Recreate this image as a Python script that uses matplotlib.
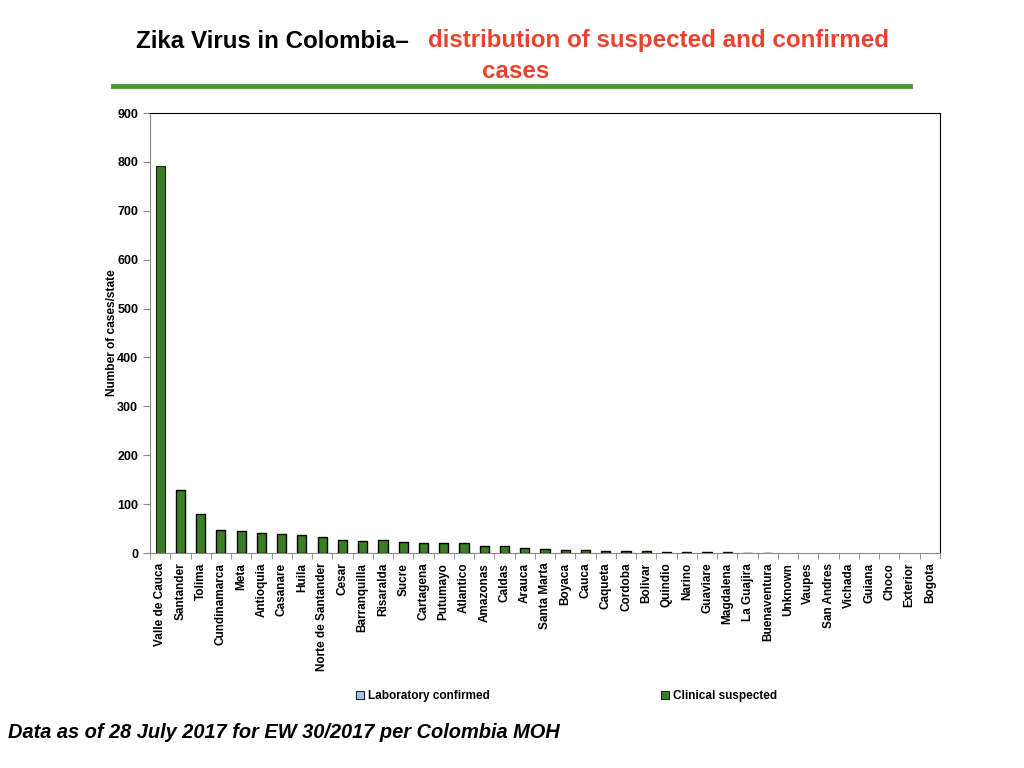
import matplotlib.pyplot as plt
import matplotlib as mpl
import numpy as np

plt.rcParams['font.family'] = ['Liberation Sans', 'DejaVu Sans']

states = ['Valle de Cauca', 'Santander', 'Tolima', 'Cundinamarca', 'Meta',
          'Antioquia', 'Casanare', 'Huila', 'Norte de Santander', 'Cesar',
          'Barranquilla', 'Risaralda', 'Sucre', 'Cartagena', 'Putumayo',
          'Atlantico', 'Amazonas', 'Caldas', 'Arauca', 'Santa Marta',
          'Boyaca', 'Cauca', 'Caqueta', 'Cordoba', 'Bolivar', 'Quindio',
          'Narino', 'Guaviare', 'Magdalena', 'La Guajira', 'Buenaventura',
          'Unknown', 'Vaupes', 'San Andres', 'Vichada', 'Guiana', 'Choco',
          'Exterior', 'Bogota']
clinical_suspected = [792, 129, 80, 47, 45, 41, 39, 37, 33, 27,
                      25, 27, 22, 20, 20, 20, 14, 14, 10, 9,
                      7, 7, 5, 5, 5, 3, 3, 3, 3, 1,
                      1, 0, 0, 0, 0, 0, 0, 0, 0]
lab_confirmed = [0] * len(states)

green = '#3b7d23'
red = '#e9432f'

fig = plt.figure(figsize=(10.24, 7.68), dpi=100)
ax = fig.add_axes([150 / 1024, 1 - 553 / 768, 790 / 1024, 440 / 768])

x = np.arange(len(states))
ax.bar(x, lab_confirmed, width=0.45, color='#a9c4e8', edgecolor='none',
       label='Laboratory confirmed')
ax.bar(x, clinical_suspected, width=0.45, color=green,
       edgecolor=['black' if v > 0 else 'none' for v in clinical_suspected],
       linewidth=1.0, label='Clinical suspected')

ax.set_xlim(-0.5, len(states) - 0.5)
ax.set_ylim(0, 900)
ax.set_yticks(np.arange(0, 901, 100))
ax.set_xticks(x)
ax.set_xticklabels(states, rotation=90, fontsize=8.5, fontweight='bold')
ax.tick_params(axis='x', length=0, pad=7)
ax.set_xticks(np.arange(-0.5, len(states), 1), minor=True)
ax.tick_params(axis='x', which='minor', length=4, color='#888888', direction='out')
ax.tick_params(axis='y', length=5, color='#888888', labelsize=9)
for lab in ax.get_yticklabels():
    lab.set_fontweight('bold')

ax.spines['left'].set_color('#888888')
ax.spines['bottom'].set_color('#888888')
ax.spines['top'].set_color('black')
ax.spines['right'].set_color('black')

ax.set_ylabel('Number of cases/state', fontsize=8.6, fontweight='bold')
ax.yaxis.set_label_coords(-0.04, 0.5)

# legend
handles, labels = ax.get_legend_handles_labels()
for h in handles:
    h.patches[0].set_edgecolor('#222222')
    h.patches[0].set_linewidth(0.8)
leg = fig.legend([h.patches[0] for h in handles], labels, loc='center',
                 bbox_to_anchor=(0.553, 1 - 696 / 768), ncol=2, frameon=False,
                 prop={'weight': 'bold', 'size': 8.5},
                 handlelength=0.7, handleheight=0.7, handletextpad=0.3,
                 columnspacing=14.5)

# title
fig.text(416 / 1024, 1 - 41 / 768, 'Zika Virus in Colombia\u2013 ', ha='right',
         va='center', fontsize=17.4, fontweight='bold', color='black')
fig.text(428 / 1024, 1 - 41 / 768, 'distribution of suspected and confirmed',
         ha='left', va='center', fontsize=17.4, fontweight='bold', color=red)
fig.text(516 / 1024, 1 - 72 / 768, 'cases', ha='center', va='center',
         fontsize=17.4, fontweight='bold', color=red)
fig.add_artist(mpl.lines.Line2D([113 / 1024, 910 / 1024], [1 - 86 / 768, 1 - 86 / 768],
                                color='#4a9a30', linewidth=3.5))

# footer
fig.text(8 / 1024, 1 - 733 / 768, 'Data as of 28 July 2017 for EW 30/2017 per Colombia MOH',
         ha='left', va='center', fontsize=14.4, fontweight='bold', fontstyle='italic')

fig.savefig('out.png', dpi=100)
